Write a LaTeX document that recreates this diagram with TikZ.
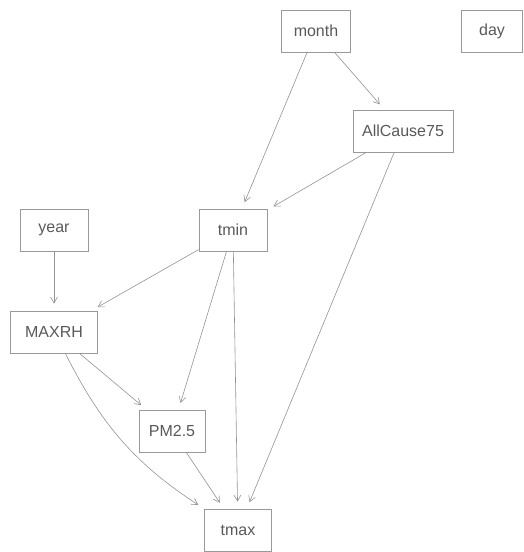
\documentclass[tikz,border=0pt]{standalone}
\usepackage{fontspec}
\setmainfont{Liberation Sans}
\usetikzlibrary{arrows.meta}

\begin{document}
\begin{tikzpicture}[x=1pt,y=1pt]
	\tikzstyle{every node}=[draw=gray!80, thick, minimum height=42pt, text=black!65, font=\fontsize{16}{19}\selectfont, inner sep=2pt]
	\tikzstyle{every edge}=[draw=gray!85, semithick, -{Straight Barb[length=6pt,width=7pt]}, shorten >=7pt]

	\useasboundingbox (0,0) rectangle (524,552);

	\node[minimum width=69pt] (month) at (316,521) {month};
	\node[minimum width=61pt] (day) at (492,521) {day};
	\node[minimum width=100pt] (AllCause75) at (403,421) {AllCause75};
	\node[minimum width=68pt] (year) at (54,322) {year};
	\node[minimum width=68pt] (tmin) at (233,322) {tmin};
	\node[minimum width=87pt] (MAXRH) at (54,220) {MAXRH};
	\node[minimum width=66pt] (PM25) at (172,121) {PM2.5};
	\node[minimum width=67pt] (tmax) at (238,22) {tmax};

	\draw (month) edge (tmin)
	edge (AllCause75);
	\draw (AllCause75) edge (tmin)
	edge (tmax);
	\draw (year) edge (MAXRH);
	\draw (tmin) edge (MAXRH)
	edge (PM25)
	edge (tmax);
	\draw (MAXRH) edge (PM25)
	edge[bend right=15] (tmax);
	\draw (PM25) edge (tmax);
\end{tikzpicture}
\end{document}
